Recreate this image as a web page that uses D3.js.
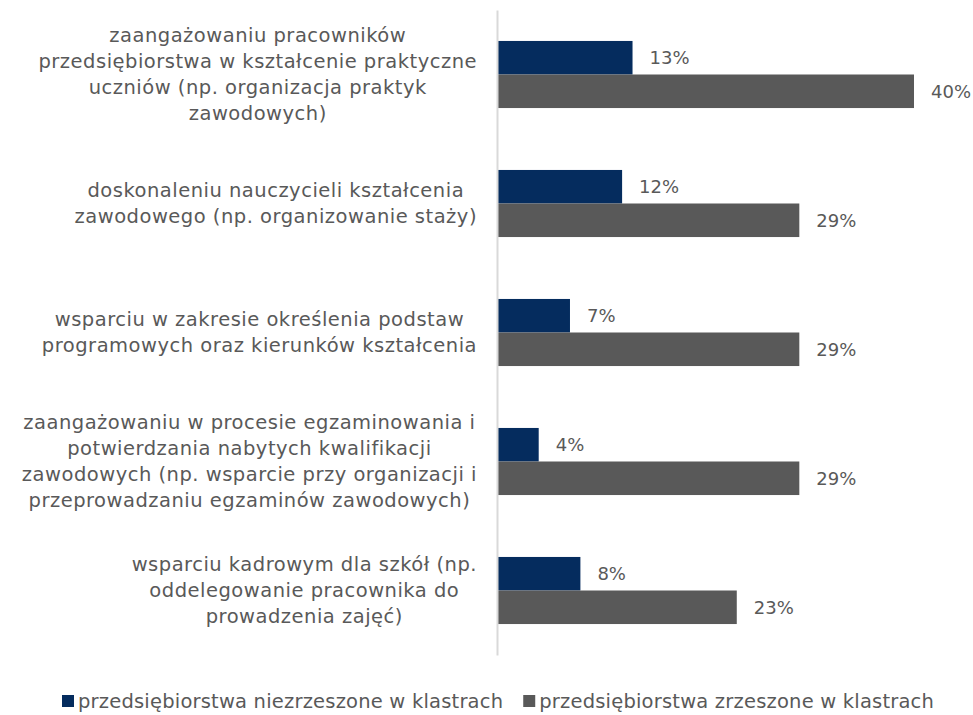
<!DOCTYPE html>
<html>
<head>
<meta charset="utf-8">
<script src="https://cdn.jsdelivr.net/npm/d3@7"></script>
<style>
  body { margin: 0; background: #fff; }
  text { font-family: "DejaVu Sans", sans-serif; fill: #595959; }
</style>
</head>
<body>
<svg id="chart"></svg>
<script>
var categories = [
  ['zaangażowaniu pracowników', 'przedsiębiorstwa w kształcenie praktyczne', 'uczniów (np. organizacja praktyk', 'zawodowych)'],
  ['doskonaleniu nauczycieli kształcenia', 'zawodowego (np. organizowanie staży)'],
  ['wsparciu w zakresie określenia podstaw', 'programowych oraz kierunków kształcenia'],
  ['zaangażowaniu w procesie egzaminowania i', 'potwierdzania nabytych kwalifikacji', 'zawodowych (np. wsparcie przy organizacji i', 'przeprowadzaniu egzaminów zawodowych)'],
  ['wsparciu kadrowym dla szkół (np.', 'oddelegowanie pracownika do', 'prowadzenia zajęć)']
];
var seriesNames = ['przedsiębiorstwa niezrzeszone w klastrach', 'przedsiębiorstwa zrzeszone w klastrach'];
var notInClusters = [13, 12, 7, 4, 8];
var inClusters = [40, 29, 29, 29, 23];
var colors = ['#052c5e', '#595959'];

function createChart(w, h) {
  var margin = {top: 10, left: 497, right: 59, bottom: 60};
  var svg = d3.select('#chart').attr('width', w).attr('height', h);

  var y = d3.scaleBand().domain(d3.range(categories.length))
    .range([margin.top, h - margin.bottom]).paddingInner(0.48).paddingOuter(0.24);
  var sub = d3.scaleBand().domain([0, 1]).range([0, y.bandwidth()]);
  var x = d3.scaleLinear().domain([0, 40]).range([margin.left, w - margin.right]);

  var rows = categories.map(function(c, i) {
    return {i: i, vals: [notInClusters[i], inClusters[i]]};
  });

  var g = svg.selectAll('.grp').data(rows).enter().append('g')
    .attr('transform', function(d) { return 'translate(0,' + y(d.i) + ')'; });

  g.selectAll('rect').data(function(d) { return d.vals; }).enter().append('rect')
    .attr('x', x(0))
    .attr('y', function(d, j) { return sub(j); })
    .attr('width', function(d) { return x(d) - x(0); })
    .attr('height', sub.bandwidth())
    .attr('fill', function(d, j) { return colors[j]; });

  g.selectAll('.val').data(function(d) { return d.vals; }).enter().append('text')
    .attr('x', function(d) { return x(d) + 17; })
    .attr('y', function(d, j) { return sub(j) + sub.bandwidth() / 2; })
    .attr('dy', '0.35em')
    .style('font-size', '18px')
    .text(function(d) { return d + '%'; });

  // axis line
  var axis = d3.axisLeft(y).tickSize(0).tickFormat('');
  svg.append('g').attr('transform', 'translate(' + x(0) + ',0)').call(axis)
    .select('.domain').attr('stroke', '#d9d9d9').attr('stroke-width', 2);

  // category labels: centred block, right edge near the axis
  var lineH = 26;
  categories.forEach(function(lines, i) {
    var cy = y(i) + y.bandwidth() / 2;
    var t = svg.append('text').attr('text-anchor', 'middle')
      .style('font-size', '19.5px').style('letter-spacing', '0.5px');
    lines.forEach(function(l, k) {
      t.append('tspan').attr('y', cy + (k - (lines.length - 1) / 2) * lineH).attr('dy', '0.35em').text(l);
    });
    var maxW = 0;
    t.selectAll('tspan').each(function() { maxW = Math.max(maxW, this.getComputedTextLength()); });
    var cx = 477 - maxW / 2;
    t.selectAll('tspan').attr('x', cx);
  });

  // legend
  var leg = svg.append('g').attr('transform', 'translate(0,' + (h - 4) + ')');
  var lx = 62;
  seriesNames.forEach(function(n, j) {
    leg.append('rect').attr('x', lx).attr('y', -16).attr('width', 12).attr('height', 12).attr('fill', colors[j]);
    var t = leg.append('text').attr('x', lx + 16).attr('y', -10).attr('dy', '0.35em')
      .style('font-size', '19.5px').style('letter-spacing', '0.2px').text(n);
    lx += 16 + t.node().getComputedTextLength() + 20;
  });
}

createChart(973, 715);
</script>
</body>
</html>
